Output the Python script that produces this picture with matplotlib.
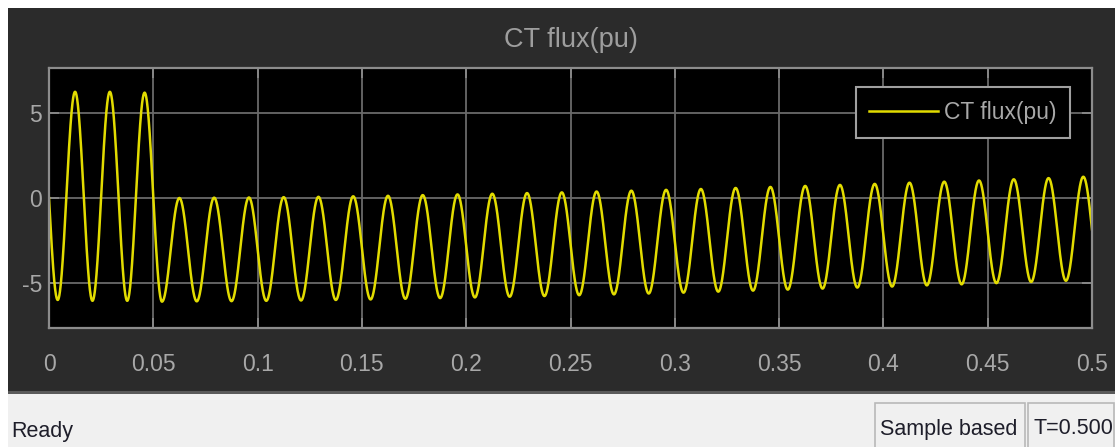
import numpy as np
import matplotlib
matplotlib.use("Agg")
import matplotlib.pyplot as plt
from matplotlib.patches import Rectangle

plt.rcParams['font.family'] = ['Liberation Sans', 'DejaVu Sans']

W, H = 1115, 447

# scope settings
f_sys = 60.0
t_end = 0.5
y_lim = (-7.65, 7.65)
x_ticks = [0, 0.05, 0.1, 0.15, 0.2, 0.25, 0.3, 0.35, 0.4, 0.45, 0.5]
x_tick_labels = ['0', '0.05', '0.1', '0.15', '0.2', '0.25', '0.3', '0.35', '0.4', '0.45', '0.5']
y_ticks = [-5, 0, 5]
y_tick_labels = ['-5', '0', '5']

# flux extremes for each 60 Hz cycle: trough first, then crest
troughs = [-6.00, -6.05, -6.05, -6.10, -6.08, -6.07, -6.05, -6.03, -6.00, -5.97,
           -5.93, -5.89, -5.85, -5.81, -5.77, -5.72, -5.67, -5.62, -5.57, -5.51,
           -5.45, -5.39, -5.33, -5.27, -5.21, -5.14, -5.08, -5.01, -4.94, -4.87]
crests = [6.25, 6.25, 6.20, 0.00, 0.02, 0.03, 0.05, 0.07, 0.10, 0.13,
          0.17, 0.21, 0.25, 0.29, 0.33, 0.38, 0.43, 0.48, 0.53, 0.59,
          0.65, 0.71, 0.77, 0.83, 0.90, 0.96, 1.03, 1.10, 1.17, 1.25]
flux_start = 0.0
flux_end = -1.85

series_name = 'CT flux(pu)'


def px(x):
    return x / W


def py(y):
    return 1 - y / H


# knots at each extreme, joined with pieces of the 60 Hz sine
period = 1.0 / f_sys
knot_t = [0.0]
knot_y = [flux_start]
for k in range(len(troughs)):
    knot_t += [k * period + period / 4, k * period + 3 * period / 4]
    knot_y += [troughs[k], crests[k]]
knot_t.append(t_end)
knot_y.append(flux_end)

t = np.linspace(0, t_end, 8001)
u = -np.sin(2 * np.pi * f_sys * t)
flux = np.zeros_like(t)
for i in range(len(knot_t) - 1):
    t0, t1 = knot_t[i], knot_t[i + 1]
    u0 = -np.sin(2 * np.pi * f_sys * t0)
    u1 = -np.sin(2 * np.pi * f_sys * t1)
    m = (t >= t0) & (t <= t1)
    flux[m] = knot_y[i] + (knot_y[i + 1] - knot_y[i]) * (u[m] - u0) / (u1 - u0)

fig = plt.figure(figsize=(W / 100, H / 100), dpi=100, facecolor='white')


def panel(x0, y0, x1, y1, fc, ec='none', lw=0):
    # rectangle given in pixels from the top-left corner, kept behind the axes
    fig.patches.append(Rectangle((px(x0), py(y1)), px(x1) - px(x0), py(y0) - py(y1),
                                 transform=fig.transFigure, facecolor=fc,
                                 edgecolor=ec, lw=lw, zorder=-10))


# scope window background and status bar
panel(8, 8, W, 392, '#2b2b2b')
panel(8, 393, W, H, '#f0f0f0')
panel(8, 391, W, 394, '#5a5a5a')
panel(875, 403, 1025, H + 2, '#f0f0f0', '#b8b8b8', 1.2)
panel(1028, 403, 1114, H + 2, '#f0f0f0', '#b8b8b8', 1.2)

ax = fig.add_axes([px(49), py(328), px(1092) - px(49), py(68) - py(328)])
ax.set_facecolor('black')
ax.plot(t, flux, color='#e2dc00', lw=1.8, label=series_name)

ax.set_xlim(0, t_end)
ax.set_ylim(*y_lim)
ax.set_xticks(x_ticks)
ax.set_xticklabels(x_tick_labels)
ax.set_yticks(y_ticks)
ax.set_yticklabels(y_tick_labels)
ax.grid(True, color='#6a6a6a', lw=1.3)
ax.tick_params(axis='both', direction='in', length=7, width=1.3, color='#8a8a8a',
               labelcolor='#a8a8a8', labelsize=16.5, top=True, right=True)
ax.tick_params(axis='x', pad=18)
ax.tick_params(axis='y', pad=5)
for s in ax.spines.values():
    s.set_color('#8c8c8c')
    s.set_linewidth(1.6)

leg = ax.legend(loc='upper right', bbox_to_anchor=((1070 - 49) / 1043, (328 - 87) / 260),
                borderaxespad=0, fancybox=False, framealpha=1, facecolor='black',
                edgecolor='#a0a0a0', fontsize=16.5, handlelength=3.0, handletextpad=0.25,
                borderpad=0.6)
leg.get_frame().set_linewidth(1.5)
for txt in leg.get_texts():
    txt.set_color('#a8a8a8')

fig.text(px(570.5), py(40), 'CT flux(pu)', ha='center', va='center',
         color='#9e9e9e', fontsize=19.5)

fig.text(px(11), py(432), 'Ready', ha='left', va='center', color='#1e1e2a', fontsize=15.5)
fig.text(px(880), py(429), 'Sample based', ha='left', va='center', color='#1e1e2a', fontsize=15.5)
fig.text(px(1033), py(429), 'T=0.500', ha='left', va='center', color='#1e1e2a', fontsize=15.5)

fig.savefig('out.png', dpi=100, facecolor=fig.get_facecolor())
